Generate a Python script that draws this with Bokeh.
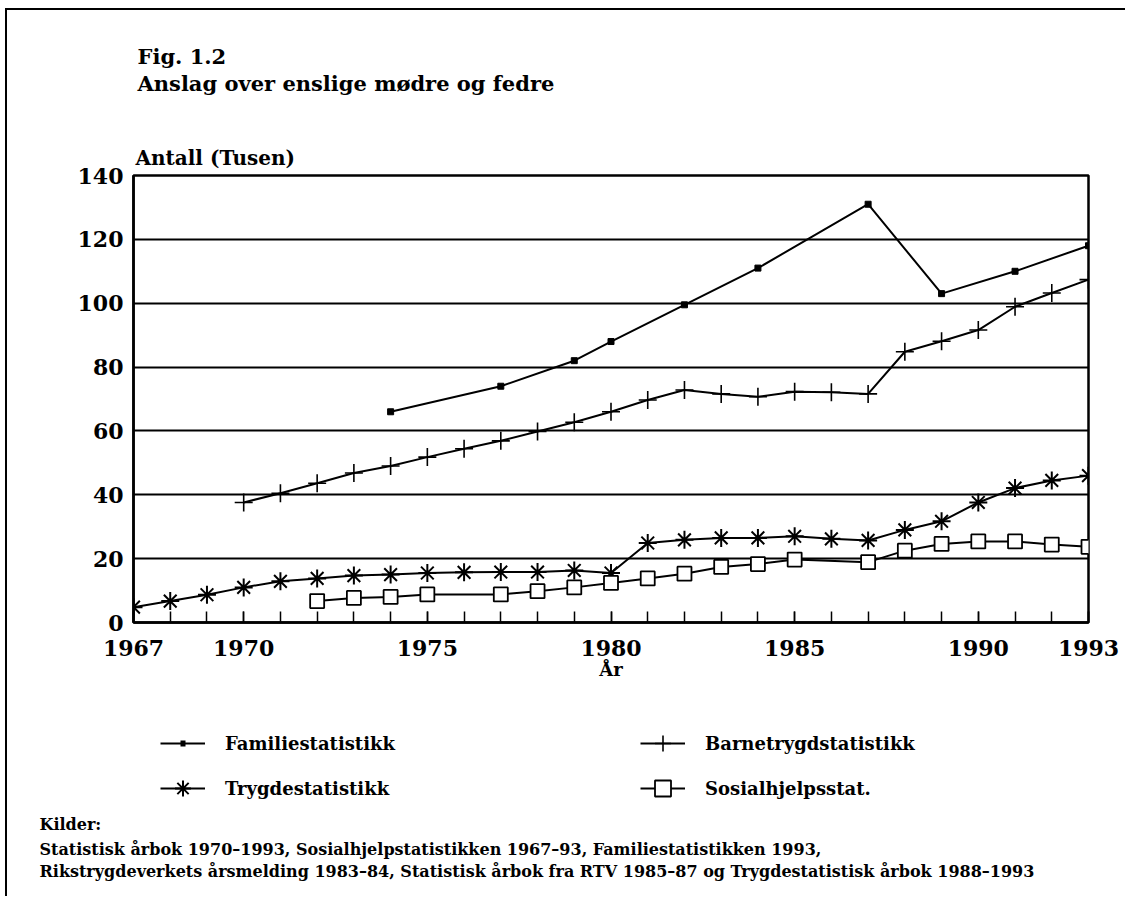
from bokeh.plotting import figure
from bokeh.layouts import column
from bokeh.models import FixedTicker, Legend, LegendItem, Range1d, Label, Title
from bokeh.core.properties import value
from bokeh.embed import file_html
from bokeh.resources import INLINE

# ---- data ----
fam_years = [1974, 1977, 1979, 1980, 1982, 1984, 1987, 1989, 1991, 1993]
fam_vals = [66, 74, 82, 88, 99.5, 111, 131, 103, 110, 118]

barn_years = list(range(1970, 1994))
barn_vals = [37.6, 40.5, 43.6, 46.8, 49, 51.8, 54.4, 56.9, 59.8, 62.7, 66, 69.7,
             72.8, 71.6, 70.7, 72.3, 72.1, 71.6, 84.8, 88.1, 91.6, 98.9, 103.2, 107.4]

tryg_years = list(range(1967, 1994))
tryg_vals = [4.8, 6.7, 8.7, 11, 12.9, 13.8, 14.7, 15, 15.5, 15.7, 15.8, 15.8, 16.3,
             15.5, 24.9, 25.9, 26.5, 26.5, 27, 26.2, 25.7, 29, 31.7, 37.6, 42.1, 44.5, 46]

sos_years = [1972, 1973, 1974, 1975, 1977, 1978, 1979, 1980, 1981, 1982, 1983, 1984,
             1985, 1987, 1988, 1989, 1990, 1991, 1992, 1993]
sos_vals = [6.7, 7.7, 8, 8.8, 8.8, 9.8, 11, 12.4, 13.8, 15.3, 17.4, 18.3, 19.7, 18.9,
            22.5, 24.6, 25.4, 25.4, 24.4, 23.7]

x_ticks = [1967, 1970, 1975, 1980, 1985, 1990, 1993]
y_ticks = [0, 20, 40, 60, 80, 100, 120, 140]

series_names = ["Familiestatistikk", "Barnetrygdstatistikk", "Trygdestatistikk", "Sosialhjelpsstat."]

title1 = "Fig. 1.2"
title2 = "Anslag over enslige mødre og fedre"
y_title = "Antall (Tusen)"
x_title = "År"
src_lines = ["Kilder:",
             "Statistisk årbok 1970–1993, Sosialhjelpstatistikken 1967–93, Familiestatistikken 1993,",
             "Rikstrygdeverkets årsmelding 1983–84, Statistisk årbok fra RTV 1985–87 og Trygdestatistisk årbok 1988–1993"]

FONT = "DejaVu Serif"

# ---- geometry (pixels) ----
W = 1118
BL, BR = 126, 37              # left / right borders shared by all frames
MB_TOP, FRAME_H, MB_BOT = 38, 447, 68
H_TOP, H_MAIN, H_BOT = 127, MB_TOP + FRAME_H + MB_BOT, 206
BOT_MB = 86

STY = {
    "fam": dict(marker="square", size=6, fill_color="black", line_color="black"),
    "barn": dict(marker="cross", size=18, line_color="black", line_width=1.6),
    "tryg": dict(marker="asterisk", size=18, line_color="black", line_width=2),
    "sos": dict(marker="square", size=14, fill_color="white", line_color="black", line_width=1.8),
}

def blank_fig(h, mb_bottom=0):
    f = figure(width=W, height=h, output_backend="svg", toolbar_location=None,
               x_range=Range1d(0, 1), y_range=Range1d(0, 1),
               x_axis_type=None, y_axis_type=None,
               min_border_left=BL, min_border_right=BR,
               min_border_top=0, min_border_bottom=mb_bottom)
    f.title = None
    f.outline_line_color = None
    f.background_fill_color = "white"
    f.border_fill_color = "white"
    return f

# ---- top: figure title (page-pixel coordinates) ----
top = blank_fig(H_TOP)
top.x_range = Range1d(133, 1088)
top.y_range = Range1d(10 + H_TOP, 10)

def add_text(f, txt, x, y, size):
    f.add_layout(Label(x=x, y=y - 7, x_units="data", y_units="data", text=txt,
                       text_font=FONT, text_font_style="bold", text_font_size=size,
                       text_color="black", text_align="left", text_baseline="alphabetic"))

add_text(top, title1, 137, 63, "21px")
add_text(top, title2, 137, 90, "21px")

# ---- main plot ----
p = figure(width=W, height=H_MAIN, output_backend="svg", toolbar_location=None,
           x_range=Range1d(1967, 1993), y_range=Range1d(0, 140),
           min_border_left=BL, min_border_right=BR,
           min_border_top=MB_TOP, min_border_bottom=MB_BOT)
p.title = None
p.add_layout(Title(text=y_title, align="left", offset=2, standoff=12,
                   text_font=FONT, text_font_style="bold", text_font_size="20px",
                   text_color="black"), "above")
p.background_fill_color = "white"
p.border_fill_color = "white"
p.outline_line_color = "black"
p.outline_line_width = 2.5

p.xaxis.ticker = FixedTicker(ticks=x_ticks, minor_ticks=list(range(1967, 1994)))
p.xaxis.major_tick_in = 11
p.xaxis.major_tick_out = 0
p.xaxis.minor_tick_in = 11
p.xaxis.minor_tick_out = 0
p.xaxis.major_tick_line_width = 1.5
p.xaxis.minor_tick_line_width = 1.5
p.xaxis.major_tick_line_color = "black"
p.xaxis.minor_tick_line_color = "black"
p.xaxis.axis_line_width = 2.5
p.xaxis.axis_line_color = "black"
p.xaxis.major_label_standoff = 17
p.xaxis.axis_label = x_title
p.xaxis.axis_label_standoff = 0
p.xaxis.axis_label_text_font = FONT
p.xaxis.axis_label_text_font_style = "bold"
p.xaxis.axis_label_text_font_size = "18px"
p.xaxis.axis_label_text_color = "black"
p.yaxis.ticker = FixedTicker(ticks=y_ticks, minor_ticks=[])
p.yaxis.major_tick_in = 0
p.yaxis.major_tick_out = 0
p.yaxis.axis_line_width = 2.5
p.yaxis.axis_line_color = "black"
p.yaxis.major_label_standoff = 10
for ax in (p.xaxis, p.yaxis):
    ax.major_label_text_font = FONT
    ax.major_label_text_font_style = "bold"
    ax.major_label_text_font_size = "22px"
    ax.major_label_text_color = "black"

p.xgrid.grid_line_color = None
p.ygrid.grid_line_color = "black"
p.ygrid.grid_line_width = 2
p.ygrid.ticker = FixedTicker(ticks=y_ticks)

p.line(fam_years, fam_vals, line_color="black", line_width=2)
p.scatter(fam_years, fam_vals, **STY["fam"])
p.line(barn_years, barn_vals, line_color="black", line_width=2)
p.scatter(barn_years, barn_vals, **STY["barn"])
p.line(tryg_years, tryg_vals, line_color="black", line_width=2)
p.scatter(tryg_years, tryg_vals, **STY["tryg"])
p.line(sos_years, sos_vals, line_color="black", line_width=2)
p.scatter(sos_years, sos_vals, **STY["sos"])

# ---- bottom: legend keys (legend-only renderers, no data) + sources ----
bot = blank_fig(H_BOT, mb_bottom=BOT_MB)
nan = float("nan")
keys = {}
for k in ("fam", "barn", "tryg", "sos"):
    rl = bot.line(x=[nan, nan], y=[nan, nan], line_color="black", line_width=2)
    if k == "fam":
        # the small filled point of the Familiestatistikk key
        rm = bot.line(x=[nan, nan], y=[nan, nan], line_color="black", line_width=6,
                      line_dash="0 20 5 100")
    else:
        rm = bot.scatter(x=[nan], y=[nan], **STY[k])
    keys[k] = [rl, rm]

legend = Legend(items=[
    LegendItem(label=value(series_names[0]), renderers=keys["fam"]),
    LegendItem(label=value(series_names[2]), renderers=keys["tryg"]),
    LegendItem(label=value(series_names[1]), renderers=keys["barn"]),
    LegendItem(label=value(series_names[3]), renderers=keys["sos"]),
], ncols=2, orientation="vertical", location=(27, 2),
   glyph_width=45, glyph_height=40, label_height=40, label_standoff=20,
   label_width=410, spacing=5, padding=0, margin=0,
   background_fill_alpha=0, border_line_color=None,
   label_text_font=FONT, label_text_font_style="bold", label_text_font_size="18px",
   label_text_color="black")
bot.add_layout(legend, "center")

for txt, so in zip(src_lines, (5, 2, 0)):
    bot.add_layout(Title(text=txt, align="left", offset=39 - 133, standoff=so,
                         text_font=FONT, text_font_style="bold", text_font_size="16px",
                         text_color="black"), "below")

layout = column(top, p, bot, spacing=0,
                styles={"border-left": "2px solid black", "border-top": "2px solid black",
                        "margin-left": "5px", "margin-top": "8px"})

open("out.html", "w").write(file_html(layout, INLINE))
